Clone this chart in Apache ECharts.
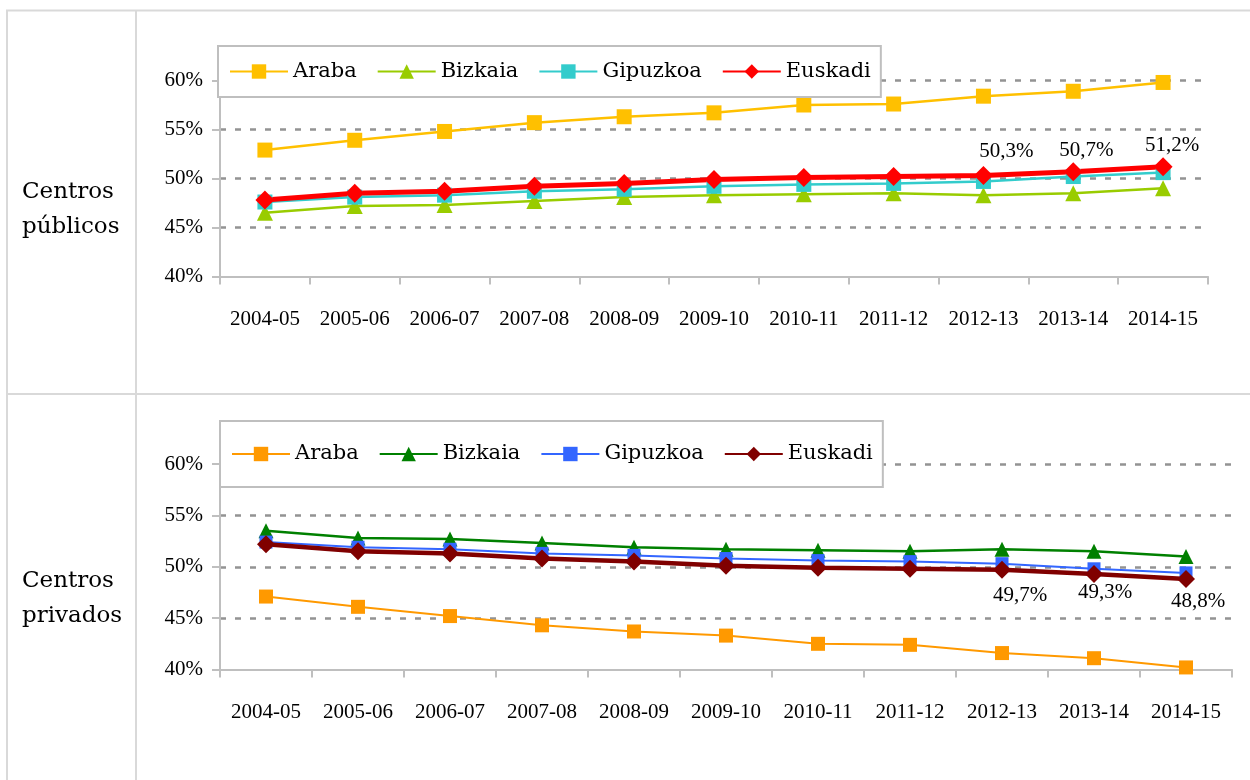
<!DOCTYPE html>
<html>
<head>
<meta charset="utf-8">
<script src="https://cdn.jsdelivr.net/npm/echarts@6/dist/echarts.min.js"></script>
<style>
  html, body { margin: 0; padding: 0; background: #fff; }
  #chart { width: 1250px; height: 780px; }
</style>
</head>
<body>
<div id="chart"></div>
<script>
  // cursos
  var years = ['2004-05', '2005-06', '2006-07', '2007-08', '2008-09', '2009-10', '2010-11', '2011-12', '2012-13', '2013-14', '2014-15'];
  var regions = ['Araba', 'Bizkaia', 'Gipuzkoa', 'Euskadi'];
  var rowLabels = ['Centros\npúblicos', 'Centros\nprivados'];

  // Centros públicos (%)
  var pubAraba = [52.9, 53.9, 54.8, 55.7, 56.3, 56.7, 57.5, 57.6, 58.4, 58.9, 59.8];
  var pubBizkaia = [46.5, 47.2, 47.3, 47.7, 48.1, 48.3, 48.4, 48.5, 48.3, 48.5, 49.0];
  var pubGipuzkoa = [47.6, 48.1, 48.3, 48.7, 48.9, 49.2, 49.4, 49.5, 49.7, 50.2, 50.6];
  var pubEuskadi = [47.8, 48.5, 48.7, 49.2, 49.5, 49.9, 50.1, 50.2, 50.3, 50.7, 51.2];

  // Centros privados (%)
  var privAraba = [47.1, 46.1, 45.2, 44.3, 43.7, 43.3, 42.5, 42.4, 41.6, 41.1, 40.2];
  var privBizkaia = [53.5, 52.8, 52.7, 52.3, 51.9, 51.7, 51.6, 51.5, 51.7, 51.5, 51.0];
  var privGipuzkoa = [52.4, 51.9, 51.7, 51.3, 51.1, 50.8, 50.6, 50.5, 50.3, 49.8, 49.4];
  var privEuskadi = [52.2, 51.5, 51.3, 50.8, 50.5, 50.1, 49.9, 49.8, 49.7, 49.3, 48.8];

  // puntos con etiqueta (Euskadi)
  var labelIdx = [8, 9, 10];

  var pubColors = ['#FFC000', '#99CC00', '#33CCCC', '#FF0000'];
  var privColors = ['#FF9900', '#008000', '#3366FF', '#800000'];
  var pubOffsets = [[23, -24], [13, -21], [9, -21]];
  var privOffsets = [[18, 26], [11, 19], [12, 22]];

  var numFont = 'Liberation Serif';
  var txtFont = 'DejaVu Serif';
  var borderColor = '#d9d9d9';

  var chart = echarts.init(document.getElementById('chart'));

  function fmt(v) {
    return v.toFixed(1).replace('.', ',') + '%';
  }

  function euskadiData(values, offsets) {
    return values.map(function (v, i) {
      var k = labelIdx.indexOf(i);
      if (k < 0) return v;
      return {
        value: v,
        label: {
          show: true, position: 'inside', offset: offsets[k],
          formatter: function (p) { return fmt(p.value); },
          fontFamily: numFont, fontSize: 21, color: '#000'
        }
      };
    });
  }

  function lineSeries(name, values, idx, color, symbol, size, width) {
    return {
      name: name, type: 'line', xAxisIndex: idx, yAxisIndex: idx,
      data: values, symbol: symbol, symbolSize: size, showAllSymbol: true,
      lineStyle: { color: color, width: width },
      itemStyle: { color: color, borderWidth: 0 },
      emphasis: { disabled: true }
    };
  }

  function xAxis(idx) {
    return {
      type: 'category', gridIndex: idx, data: years,
      axisLine: { lineStyle: { color: '#bfbfbf', width: 2 } },
      axisTick: { show: true, length: 8, lineStyle: { color: '#bfbfbf', width: 2 } },
      axisLabel: { interval: 0, margin: 32, fontFamily: numFont, fontSize: 21, color: '#000' },
      splitLine: { show: false }
    };
  }

  function yAxis(idx) {
    return {
      type: 'value', gridIndex: idx, min: 40, max: 60, interval: 5,
      axisLine: { show: true, lineStyle: { color: '#bfbfbf', width: 2 } },
      axisTick: { show: true, length: 8, lineStyle: { color: '#bfbfbf', width: 2 } },
      axisLabel: { margin: 17, fontFamily: numFont, fontSize: 21, color: '#000', formatter: '{value}%' },
      splitLine: { show: true, showMinLine: false, lineStyle: { color: '#939393', width: 2.5, type: [6, 9] } }
    };
  }

  function legend(top, left, vpad, suffix) {
    return {
      top: top, left: left, z: 5, selectedMode: false,
      padding: [vpad, 10, vpad, 11],
      itemWidth: 58, itemHeight: 18, itemGap: 20,
      backgroundColor: '#fff', borderColor: '#bfbfbf', borderWidth: 2, borderRadius: 0,
      textStyle: { fontFamily: txtFont, fontSize: 21, color: '#000', lineHeight: 24 },
      formatter: function (name) { return name.trim(); },
      data: regions.map(function (r) { return r + suffix; })
    };
  }

  chart.setOption({
    animation: false,
    backgroundColor: '#fff',
    grid: [
      { left: 220, top: 80.5, width: 988, height: 196 },
      { left: 220, top: 464, width: 1012, height: 205.5 }
    ],
    legend: [
      legend(46, 218, 13.5, ''),
      legend(421, 220, 21, ' ')
    ],
    xAxis: [xAxis(0), xAxis(1)],
    yAxis: [yAxis(0), yAxis(1)],
    series: [
      lineSeries('Araba', pubAraba, 0, pubColors[0], 'rect', 15, 2.5),
      lineSeries('Bizkaia', pubBizkaia, 0, pubColors[1], 'triangle', 16, 2.5),
      lineSeries('Gipuzkoa', pubGipuzkoa, 0, pubColors[2], 'rect', 15, 2.5),
      lineSeries('Euskadi', euskadiData(pubEuskadi, pubOffsets), 0, pubColors[3], 'diamond', 19, 5),
      lineSeries('Araba ', privAraba, 1, privColors[0], 'rect', 14, 2),
      lineSeries('Bizkaia ', privBizkaia, 1, privColors[1], 'triangle', 15, 2.5),
      lineSeries('Gipuzkoa ', privGipuzkoa, 1, privColors[2], 'rect', 13, 2),
      lineSeries('Euskadi ', euskadiData(privEuskadi, privOffsets), 1, privColors[3], 'diamond', 18, 4.5)
    ],
    graphic: [
      // tabla
      { type: 'line', shape: { x1: 6, y1: 10.5, x2: 1250, y2: 10.5 }, style: { stroke: borderColor, lineWidth: 2 } },
      { type: 'line', shape: { x1: 7, y1: 10, x2: 7, y2: 780 }, style: { stroke: borderColor, lineWidth: 2 } },
      { type: 'line', shape: { x1: 136, y1: 10, x2: 136, y2: 780 }, style: { stroke: borderColor, lineWidth: 2 } },
      { type: 'line', shape: { x1: 6, y1: 394, x2: 1250, y2: 394 }, style: { stroke: borderColor, lineWidth: 2 } },
      {
        type: 'text', left: 22, top: 175,
        style: { text: rowLabels[0], fontFamily: txtFont, fontSize: 23, lineHeight: 35, fill: '#000' }
      },
      {
        type: 'text', left: 22, top: 564,
        style: { text: rowLabels[1], fontFamily: txtFont, fontSize: 23, lineHeight: 35, fill: '#000' }
      }
    ]
  });
</script>
</body>
</html>
